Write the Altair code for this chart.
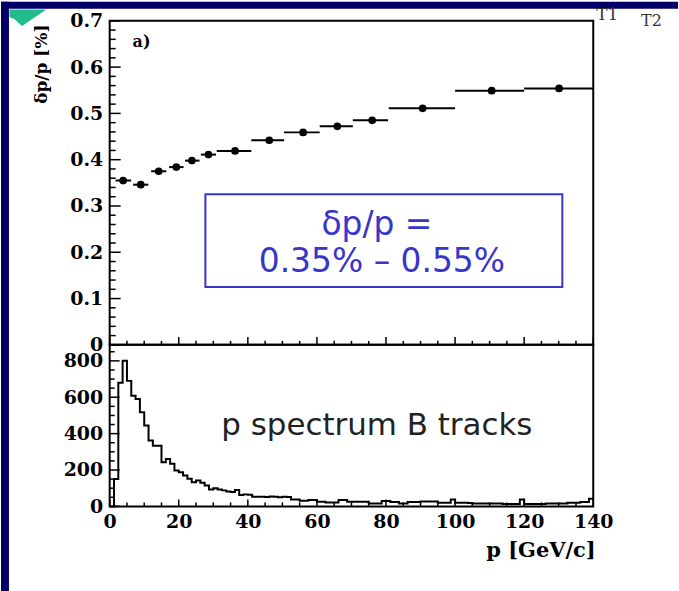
import altair as alt
import numpy as np
import pandas as pd

# ---- momentum resolution (upper panel) ----
res_p = [3.9, 9.0, 14.2, 19.3, 23.8, 28.6, 36.3, 46.2, 56.0, 65.9, 76.0, 90.6, 110.6, 130.1]
res_lo = [1.7, 6.8, 12.0, 17.2, 21.8, 26.4, 31.0, 41.0, 50.5, 60.8, 70.4, 80.8, 100.0, 120.0]
res_hi = [6.2, 11.2, 16.4, 21.4, 26.0, 30.8, 41.0, 50.5, 60.8, 70.4, 80.6, 100.0, 120.0, 140.0]
res_val = [0.355, 0.346, 0.375, 0.384, 0.398, 0.411, 0.419, 0.442, 0.459, 0.472, 0.485, 0.511, 0.549, 0.554]

# ---- momentum spectrum of B tracks (lower panel), 1.25 GeV/c bins from 0 to 140 ----
bin_width = 1.25
counts = [
    0, 150, 680, 800, 690, 608, 590, 517, 444, 362,
    334, 334, 243, 261, 234, 197, 188, 170, 152, 133,
    142, 130, 115, 93, 100, 93, 88, 82, 79, 90,
    62, 66, 64, 53, 53, 53, 52, 54, 53, 50,
    53, 51, 38, 38, 31, 31, 35, 35, 26, 26,
    22, 22, 22, 35, 35, 26, 26, 26, 26, 26,
    16, 16, 16, 29, 29, 24, 24, 16, 16, 24,
    24, 24, 27, 27, 27, 27, 20, 20, 20, 38,
    20, 20, 20, 18, 16, 16, 16, 16, 16, 16,
    16, 13, 13, 13, 13, 38, 13, 13, 13, 13,
    13, 16, 16, 16, 16, 16, 20, 20, 20, 24,
    24, 42,
]

# axis tick values and labels
x_major = [0, 20, 40, 60, 80, 100, 120, 140]
y1_major = [0, 0.1, 0.2, 0.3, 0.4, 0.5, 0.6, 0.7]
y2_major = [0, 200, 400, 600, 800]
x_minor = [v for v in np.arange(5, 140, 5).tolist() if v % 20]
y1_minor = [round(v, 2) for v in np.arange(0.02, 0.7, 0.02).tolist() if round(v * 50) % 5]
y2_minor = [v for v in range(50, 851, 50) if v % 200]

box_lines = ["\u03b4p/p =", "0.35% \u2013 0.55%"]
spectrum_label = "p spectrum B tracks"

NAVY = "#000066"
BLUE = "#3636c8"
W, H1, H2 = 485, 325, 162

xs = alt.Scale(domain=[0, 140], nice=False, zero=False)
ys1 = alt.Scale(domain=[0, 0.7], nice=False)
ys2 = alt.Scale(domain=[0, 888], nice=False)

one = pd.DataFrame({"k": [0]})
res_df = pd.DataFrame({"p": res_p, "lo": res_lo, "hi": res_hi, "r": res_val})
edges = (np.arange(len(counts) + 1) * bin_width).tolist()
hist_df = pd.DataFrame({"p": edges[:-1] + [edges[-1]], "n": counts + [counts[-1]]})


def vals(v):
    return pd.DataFrame({"v": v})


# ---------------- upper panel ----------------
y1_axis = alt.Axis(
    values=y1_major, labelExpr="datum.value == 0 ? '0' : format(datum.value, '.1f')",
    ticks=False, tickSize=0, domain=False, grid=False, labelPadding=7,
    labelFlush=False, labelOverlap=False,
    title="\u03b4p/p [%]", titleAngle=270, titleX=-68, titleY=43,
    titleAlign="center", titleBaseline="middle", titleFontSize=17,
)
x1_axis = alt.Axis(labels=False, ticks=False, domain=False, grid=False, title=None)

navy_left = alt.Chart(one).mark_rect(color=NAVY).encode(
    x=alt.value(-109), x2=alt.value(-101), y=alt.value(-19), y2=alt.value(572))
navy_top = alt.Chart(one).mark_rect(color=NAVY).encode(
    x=alt.value(-109), x2=alt.value(570), y=alt.value(-19), y2=alt.value(-12))
corner = alt.Chart(one).mark_point(
    shape="M -1 -0.45 L 1 -0.45 L -0.32 0.45 L -0.74 0.06 L -1 -0.03 Z",
    filled=True, color="#22bb8c", opacity=1, size=1369,
).encode(x=alt.value(-82), y=alt.value(-3))
t1 = alt.Chart(one).mark_text(text="T1", font="DejaVu Serif", fontSize=17, color="#333",
                              align="left", baseline="middle").encode(
    x=alt.value(488), y=alt.value(-6))
t2 = alt.Chart(one).mark_text(text="T2", font="DejaVu Serif", fontSize=16, color="#333",
                              align="left", baseline="middle").encode(
    x=alt.value(533), y=alt.value(0))

y1_ticks_major = alt.Chart(vals(y1_major)).mark_rule(color="black", strokeWidth=1.5).encode(
    y=alt.Y("v:Q", scale=ys1, axis=y1_axis), x=alt.value(0), x2=alt.value(11))
y1_ticks_minor = alt.Chart(vals(y1_minor)).mark_rule(color="black", strokeWidth=1.5).encode(
    y=alt.Y("v:Q", scale=ys1, axis=y1_axis), x=alt.value(0), x2=alt.value(6))
x1_ticks_major = alt.Chart(vals(x_major)).mark_rule(color="black", strokeWidth=1.5).encode(
    x=alt.X("v:Q", scale=xs, axis=x1_axis), y=alt.value(H1), y2=alt.value(H1 - 8))
x1_ticks_minor = alt.Chart(vals(x_minor)).mark_rule(color="black", strokeWidth=1.5).encode(
    x=alt.X("v:Q", scale=xs, axis=x1_axis), y=alt.value(H1), y2=alt.value(H1 - 4))

err = alt.Chart(res_df).mark_rule(color="black", strokeWidth=2).encode(
    x=alt.X("lo:Q", scale=xs, axis=x1_axis), x2="hi:Q",
    y=alt.Y("r:Q", scale=ys1, axis=y1_axis))
pts = alt.Chart(res_df).mark_circle(color="black", opacity=1, size=60).encode(
    x=alt.X("p:Q", scale=xs, axis=x1_axis), y=alt.Y("r:Q", scale=ys1, axis=y1_axis))

panel_tag = alt.Chart(one).mark_text(
    text="a)", font="DejaVu Serif", fontWeight="bold", fontSize=16, color="black",
    align="left", baseline="middle").encode(x=alt.value(23), y=alt.value(21))

box = alt.Chart(one).mark_rect(fill="white", fillOpacity=0, stroke=BLUE, strokeWidth=2).encode(
    x=alt.value(96), x2=alt.value(454), y=alt.value(174), y2=alt.value(267))
box_text1 = alt.Chart(one).mark_text(
    text=box_lines[0], font="DejaVu Sans", fontSize=33, color=BLUE,
    align="center", baseline="middle").encode(x=alt.value(268), y=alt.value(205))
box_text2 = alt.Chart(one).mark_text(
    text=box_lines[1], font="DejaVu Sans", fontSize=33, color=BLUE,
    align="center", baseline="middle").encode(x=alt.value(273), y=alt.value(242))

top = alt.layer(
    navy_left, navy_top, corner, t1, t2,
    err, pts, y1_ticks_major, y1_ticks_minor, x1_ticks_major, x1_ticks_minor,
    panel_tag, box, box_text1, box_text2,
).properties(width=W, height=H1)

# ---------------- lower panel ----------------
y2_axis = alt.Axis(
    values=y2_major, format="d", ticks=False, tickSize=0, domain=False, grid=False,
    labelPadding=7, labelFlush=False, labelOverlap=False, title=None)
x2_axis = alt.Axis(
    values=x_major, format="d", ticks=False, tickSize=0, domain=False, grid=False,
    labelPadding=6, labelFlush=False, labelOverlap=False,
    title="p  [GeV/c]", titleX=W + 2, titleY=44, titleAlign="right", titleBaseline="middle",
    titleFontSize=21)

hist = alt.Chart(hist_df).mark_line(interpolate="step-after", color="black", strokeWidth=2).encode(
    x=alt.X("p:Q", scale=xs, axis=x2_axis),
    y=alt.Y("n:Q", scale=ys2, axis=y2_axis))
y2_ticks_major = alt.Chart(vals(y2_major)).mark_rule(color="black", strokeWidth=1.5).encode(
    y=alt.Y("v:Q", scale=ys2, axis=y2_axis), x=alt.value(0), x2=alt.value(10))
y2_ticks_minor = alt.Chart(vals(y2_minor)).mark_rule(color="black", strokeWidth=1.5).encode(
    y=alt.Y("v:Q", scale=ys2, axis=y2_axis), x=alt.value(0), x2=alt.value(5))
x2_ticks_major = alt.Chart(vals(x_major)).mark_rule(color="black", strokeWidth=1.5).encode(
    x=alt.X("v:Q", scale=xs, axis=x2_axis), y=alt.value(H2), y2=alt.value(H2 - 7))
x2_ticks_minor = alt.Chart(vals(x_minor)).mark_rule(color="black", strokeWidth=1.5).encode(
    x=alt.X("v:Q", scale=xs, axis=x2_axis), y=alt.value(H2), y2=alt.value(H2 - 4))
spectrum_text = alt.Chart(one).mark_text(
    text=spectrum_label, font="DejaVu Sans", fontSize=31, color="#222222",
    align="center", baseline="middle").encode(x=alt.value(268), y=alt.value(81))

bottom = alt.layer(
    hist, y2_ticks_major, y2_ticks_minor, x2_ticks_major, x2_ticks_minor, spectrum_text,
).properties(width=W, height=H2)

chart = (
    alt.vconcat(top, bottom, spacing=0, bounds="flush")
    .properties(padding=0, background="white")
    .configure_view(stroke="black", strokeWidth=2)
    .configure_axis(
        labelFont="DejaVu Serif", labelFontWeight="bold", labelFontSize=19, labelColor="black",
        titleFont="DejaVu Serif", titleFontWeight="bold", titleColor="black",
    )
)

chart.save("out.html", embed_options={"renderer": "svg", "actions": False})
